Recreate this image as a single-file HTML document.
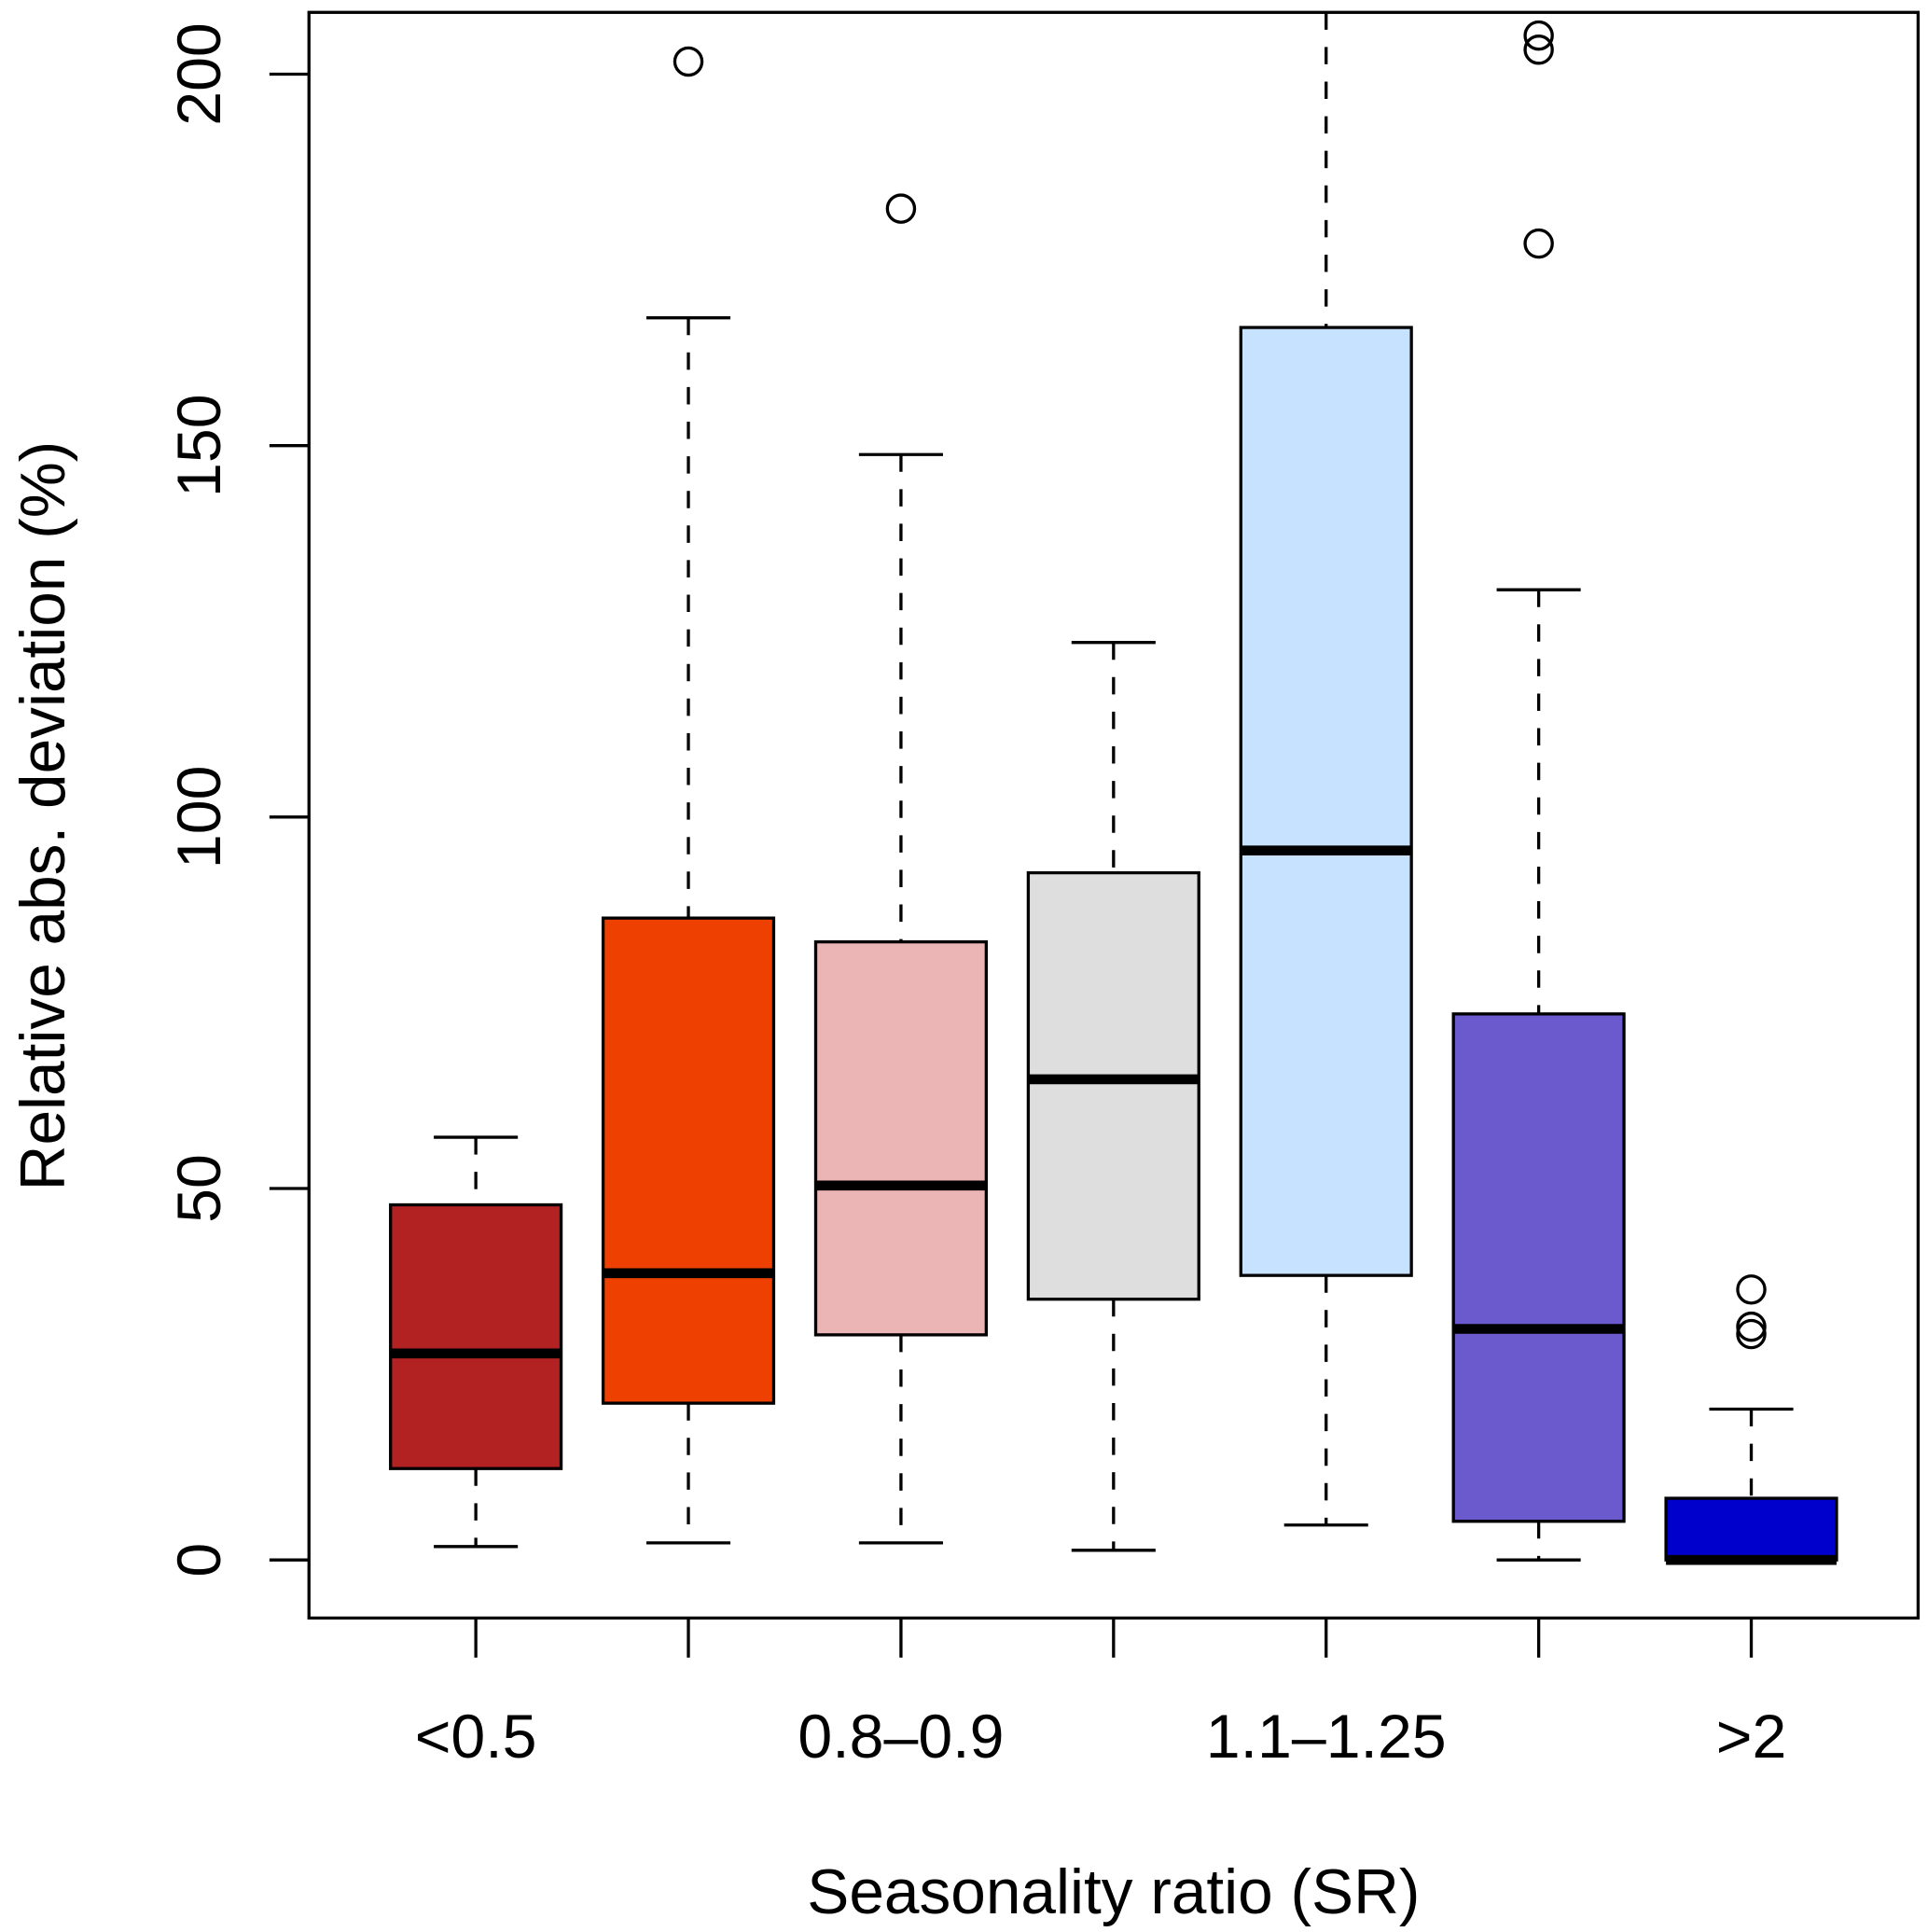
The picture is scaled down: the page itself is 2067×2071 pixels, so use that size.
<!DOCTYPE html>
<html><head><meta charset="utf-8"><style>
html,body{margin:0;padding:0;background:#fff}
svg{display:block}
text{font-family:"Liberation Sans",Arial,sans-serif;fill:#000}
</style></head><body>
<svg id="chart" width="2067" height="2071" viewBox="0 0 1560 1563" xmlns="http://www.w3.org/2000/svg">
<rect x="250" y="10" width="1302" height="1299" fill="none" stroke="#000" stroke-width="2.5"/>
<g id="marks"></g>
<text x="901" y="1548" font-size="51" text-anchor="middle">Seasonality ratio (SR)</text>
<text transform="translate(52,660) rotate(-90)" font-size="51" text-anchor="middle">Relative abs. deviation (%)</text>
</svg>
<script>
const categories=["<0.5","0.5-0.8","0.8\u20130.9","0.9-1.1","1.1\u20131.25","1.25-2",">2"];
const shownLabels=["<0.5","","0.8\u20130.9","","1.1\u20131.25","",">2"];
const colors=["#b22222","#ee4000","#ecb5b5","#dedede","#c6e2ff","#6a5acd","#0000cd"];
const whiskLo=[1.8,2.3,2.3,1.3,4.7,0,0];
const q1=[12.3,21.1,30.3,35.1,38.3,5.2,0];
const med=[27.8,38.6,50.4,64.7,95.5,31.1,0];
const q3=[47.8,86.4,83.2,92.5,165.9,73.5,8.3];
const whiskHi=[56.9,167.2,148.8,123.5,215,130.6,20.3];
const outliers=[[],[201.7],[181.9],[],[],[205.2,203.3,177.2],[36.4,31.4,30.4]];
const yTicks=[0,50,100,150,200];
const yScale=v=>1262-v*6.01;
const xScale=i=>385+i*172;
const NS="http://www.w3.org/2000/svg";
const g=document.getElementById('marks');
function mk(tag,attrs){const e=document.createElementNS(NS,tag);for(const k in attrs)e.setAttribute(k,attrs[k]);g.appendChild(e);return e;}
const plotTop=10,hw=69,cw=34;
categories.forEach((c,i)=>{
  const cx=xScale(i);
  const hi=Math.max(yScale(whiskHi[i]),plotTop);
  const l1=mk('line',{x1:cx,x2:cx,y1:hi,y2:yScale(q3[i]),stroke:'#000','stroke-width':2.5,'stroke-dasharray':'14,14'});
  
  
  const l2=mk('line',{x1:cx,x2:cx,y1:yScale(q1[i]),y2:yScale(whiskLo[i]),stroke:'#000','stroke-width':2.5,'stroke-dasharray':'14,14'});
  
  
  if(yScale(whiskHi[i])>=plotTop){
    const c1=mk('line',{x1:cx-cw,x2:cx+cw,y1:yScale(whiskHi[i]),y2:yScale(whiskHi[i]),stroke:'#000','stroke-width':2.5});
    
    
  }
  const c2=mk('line',{x1:cx-cw,x2:cx+cw,y1:yScale(whiskLo[i]),y2:yScale(whiskLo[i]),stroke:'#000','stroke-width':2.5});
  
  
  const b=mk('rect',{x:cx-hw,y:yScale(q3[i]),width:2*hw,height:Math.max(yScale(q1[i])-yScale(q3[i]),1),fill:colors[i],stroke:'#000','stroke-width':2.5});
  
  
  const m=mk('line',{x1:cx-hw,x2:cx+hw,y1:yScale(med[i]),y2:yScale(med[i]),stroke:'#000','stroke-width':8});
  
  
  outliers[i].forEach(v=>{
    const o=mk('circle',{cx:cx,cy:yScale(v),r:11,fill:'none',stroke:'#000','stroke-width':2.5});
    
    
  });
  const t=mk('line',{x1:cx,x2:cx,y1:1309,y2:1341,stroke:'#000','stroke-width':2.5});
  
  
  if(shownLabels[i]){
    const tl=mk('text',{x:cx,y:1422,'font-size':50,'text-anchor':'middle'});
    tl.textContent=shownLabels[i];
    
    
  }
});
yTicks.forEach(v=>{
  const t=mk('line',{x1:218,x2:250,y1:yScale(v),y2:yScale(v),stroke:'#000','stroke-width':2.5});
  
  
  const tl=mk('text',{transform:`translate(178,${yScale(v)}) rotate(-90)`,'font-size':50,'text-anchor':'middle'});
  tl.textContent=v;
  
  
});
</script>
</body></html>
